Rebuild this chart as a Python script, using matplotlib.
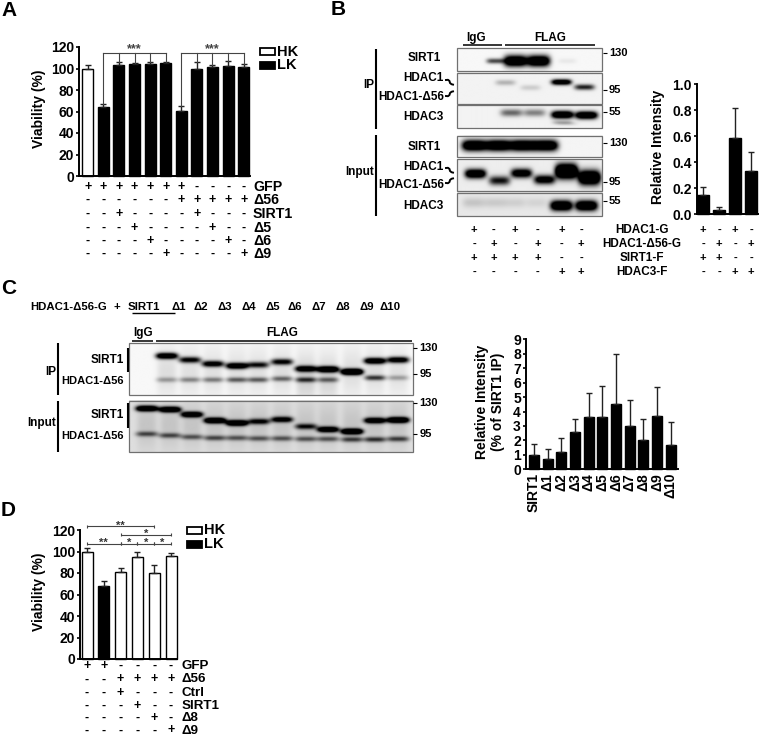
import numpy as np
import matplotlib
matplotlib.use('Agg')
import matplotlib.pyplot as plt
from matplotlib.patches import Rectangle

plt.rcParams['font.family'] = ['Liberation Sans', 'DejaVu Sans']
plt.rcParams['font.weight'] = 'bold'
plt.rcParams['axes.labelweight'] = 'bold'

W, H = 759, 737
D = '\u0394'

# panel A
a_vals = [100, 64, 103, 104.5, 104.5, 105, 60.5, 100, 101, 102.5, 101.5]
a_tops = [103, 67, 106, 105.5, 106.5, 106, 65, 106, 103.5, 107, 104.5]
a_colors = ['white'] + ['black'] * 10
a_labels = ['GFP', D + '56', 'SIRT1', D + '5', D + '6', D + '9']
a_signs = ['+++++++----', '------+++++', '--+----+---', '---+----+--', '----+----+-', '-----+----+']

# panel B
b_vals = [0.145, 0.03, 0.585, 0.335]
b_tops = [0.21, 0.055, 0.815, 0.48]
b_labels = ['HDAC1-G', 'HDAC1-' + D + '56-G', 'SIRT1-F', 'HDAC3-F']
b_signs_blot = ['+-+-+-', '-+-+-+', '++++--', '----++']
b_signs_bar = ['+-+-', '-+-+', '++--', '--++']

# panel C
c_names = ['SIRT1'] + [D + str(i) for i in range(1, 11)]
c_vals = [1, 0.7, 1.2, 2.6, 3.65, 3.6, 4.55, 3.0, 2.0, 3.7, 1.65]
c_tops = [1.75, 1.4, 2.2, 3.5, 5.3, 5.75, 8.0, 4.8, 3.5, 5.7, 3.3]

# panel D
d_vals = [100, 68, 81, 95, 80, 96]
d_tops = [103.5, 73, 85, 100, 87.5, 99]
d_colors = ['white', 'black', 'white', 'white', 'white', 'white']
d_labels = ['GFP', D + '56', 'Ctrl', 'SIRT1', D + '8', D + '9']
d_signs = ['++----', '--++++', '--+---', '---+--', '----+-', '-----+']

# blots: x, y, darkness of the bands, in picture pixels
b1_x = [515, 538]
b1_y = [61, 61]
b1_v = [1.6, 1.6]
b1b_x = [495, 567]
b1b_y = [61, 61]
b1b_v = [0.7, 0.06]
b2_x = [505, 530, 561, 584]
b2_y = [83, 88, 82.5, 87.5]
b2_v = [0.25, 0.15, 1.4, 0.85]
b3_x = [511, 534, 562, 586]
b3_y = [113, 113, 115, 115.5]
b3_v = [0.55, 0.45, 1.6, 1.6]
b3b_x = [562, 567]
b3b_y = [123, 124]
b3b_v = [0.25, 0.1]
b4_x = [474, 498, 522, 545]
b4_y = [146, 146, 146, 146]
b4_v = [1.6, 1.6, 1.6, 1.6]
b5_x = [475, 499, 521, 544]
b5_y = [174, 181, 173.5, 180]
b5_v = [1.5, 0.9, 1.3, 1.2]
b5b_x = [566, 589]
b5b_y = [171.5, 178]
b5b_v = [2.2, 1.9]
b6_x = [473, 494, 514, 536, 561, 586]
b6_y = [203, 203, 203, 203, 206, 206]
b6_v = [0.14, 0.12, 0.1, 0.08, 1.6, 1.6]

c1_x = [167, 190, 213, 237, 258, 282, 306, 328, 352, 375, 398]
c1_y = [356, 360, 364, 366, 365, 362, 369, 369.5, 372, 361, 360]
c1_v = [1.4, 1.0, 1.15, 1.4, 0.9, 1.0, 1.3, 1.6, 1.9, 1.4, 1.2]
c2_x = [167, 190, 213, 237, 258, 282, 306, 328, 375, 398]
c2_y = [380, 380, 380, 380, 380, 379, 380, 380, 378, 378]
c2_v = [0.3, 0.38, 0.42, 0.55, 0.55, 0.5, 0.7, 0.5, 0.7, 0.28]
c5_x = [167, 190, 213, 237, 258, 282, 306, 328, 352, 375, 398]
c5_y = [372, 372, 372, 372, 372, 372, 378, 378, 372, 372, 372]
c5_v = [0.1, 0.09, 0.09, 0.09, 0.09, 0.1, 0.16, 0.14, 0.1, 0.1, 0.09]
c3_x = [147, 170, 192, 215, 237, 259, 282, 306, 328, 352, 375, 398]
c3_y = [409, 410, 415, 421, 423.5, 422, 420, 427, 430, 432, 421, 420.5]
c3_v = [1.5, 1.5, 1.4, 1.5, 1.5, 0.9, 1.05, 0.8, 1.3, 1.6, 1.3, 1.6]
c4_x = [147, 170, 192, 215, 237, 259, 282, 306, 328, 352, 375, 398]
c4_y = [434.5, 436, 437.5, 438.5, 438.5, 439, 439, 439.5, 439.5, 440, 440, 439.5]
c4_v = [0.55, 0.55, 0.5, 0.55, 0.5, 0.5, 0.5, 0.5, 0.5, 0.6, 0.65, 0.6]
c6_y = [426] * 12
c6_v = [0.1] * 12

fig = plt.figure(figsize=(W / 100, H / 100), dpi=100)
over = fig.add_axes([0, 0, 1, 1], zorder=5)
over.set_xlim(0, W)
over.set_ylim(H, 0)
over.axis('off')
over.patch.set_alpha(0)


def txt(x, y, s, size=8.5, ha='center', **kw):
    over.text(x, y, s, fontsize=size, ha=ha, va='center', fontweight='bold', **kw)


def pxline(xs, ys, lw=1.0, color='black'):
    over.plot(xs, ys, color=color, lw=lw, solid_capstyle='butt')


def bars(left, right, top, bottom, first, step, ymax, vals, tops, colors, width, yticks, fmt):
    ax = fig.add_axes([left / W, 1 - bottom / H, (right - left) / W, (bottom - top) / H])
    ax.set_xlim((left - first) / step, (right - first) / step)
    ax.set_ylim(0, ymax)
    xs = np.arange(len(vals))
    vals = np.array(vals)
    ax.bar(xs, vals, width=width / step, color=colors, edgecolor='black', linewidth=1.0, clip_on=False)
    ax.errorbar(xs, vals, yerr=[np.zeros(len(vals)), np.array(tops) - vals], fmt='none',
                ecolor='#222222', elinewidth=1.0, capsize=2.2, capthick=1.0)
    for s in ['top', 'right']:
        ax.spines[s].set_visible(False)
    for s in ['left', 'bottom']:
        ax.spines[s].set_linewidth(1.4)
    ax.set_xticks([])
    ax.set_yticks(yticks)
    ax.set_yticklabels([fmt % t for t in yticks], fontsize=10, fontweight='bold')
    ax.tick_params(axis='y', length=2.5, width=1.2, pad=1)
    ax.patch.set_alpha(0)
    return ax


def signs(rows, ys, xs, labels=None, label_x=None, size=10.2, sign_size=9):
    for row, y in zip(rows, ys):
        for x, c in zip(xs, row):
            txt(x, y, c, size=sign_size)
    if labels:
        for lab, y in zip(labels, ys):
            txt(label_x, y, lab, size=size, ha='left')


def blot(x0, x1, y0, y1, bg, rows):
    xx, yy = np.meshgrid(np.linspace(x0, x1, int((x1 - x0) * 2)), np.linspace(y0, y1, int((y1 - y0) * 2)))
    dark = np.full(xx.shape, bg)
    for xs, ys, vs, hw, hh in rows:
        for x, y, v in zip(xs, ys, vs):
            dark = dark + v * np.exp(-((xx - x) / hw) ** 4 - ((yy - y) / hh) ** 2)
    over.imshow(1 - np.clip(dark, 0, 1), extent=(x0, x1, y1, y0), cmap='gray', vmin=0, vmax=1,
                aspect='auto', interpolation='bilinear', zorder=1)
    over.add_patch(Rectangle((x0, y0), x1 - x0, y1 - y0, fc='none', ec='#707070', lw=0.9, zorder=2))


def mw(x, y, s, size=8):
    pxline([x, x + 4], [y, y], lw=0.8)
    txt(x + 6, y, s, size=size, ha='left')


def curl(x, y, down=True):
    d = 1 if down else -1
    xs = [x, x + 2, x + 3.5, x + 4, x + 5.5, x + 7]
    ys = [y - 2 * d, y - 2.2 * d, y - 1 * d, y + 1 * d, y + 2.2 * d, y + 2.6 * d]
    over.plot(xs, ys, color='black', lw=1.4)


# panel letters
txt(1, 10, 'A', size=15, ha='left')
txt(331, 9, 'B', size=15, ha='left')
txt(1, 288, 'C', size=15, ha='left')
txt(1, 510, 'D', size=15, ha='left')

# A
a_x = 87.7 + 15.6 * np.arange(11)
ax = bars(79, 250, 47, 176, 87.7, 15.6, 120, a_vals, a_tops, a_colors, 11,
          [0, 20, 40, 60, 80, 100, 120], '%d')
txt(39, 109, 'Viability (%)', size=10, rotation=90)
for idx in ([1, 2, 3, 4, 5], [6, 7, 8, 9, 10]):
    ax.plot([idx[0], idx[-1]], [114, 114], color='#444444', lw=0.8, clip_on=False)
    for i in idx:
        ax.plot([i, i], [a_tops[i], 114], color='#444444', lw=0.8, clip_on=False)
    ax.text((idx[0] + idx[-1]) / 2, 112, '***', fontsize=9, ha='center', va='bottom',
            color='#444444', fontweight='bold', clip_on=False)
over.add_patch(Rectangle((260, 48), 15, 7, fc='white', ec='black', lw=1.3))
over.add_patch(Rectangle((260, 61.5), 15, 7, fc='black', ec='black', lw=1.3))
txt(277, 51.5, 'HK', size=10.5, ha='left')
txt(277, 65, 'LK', size=10.5, ha='left')
signs(a_signs, [187, 200, 213.7, 227.7, 240.7, 254], a_x, a_labels, 253)

# B
txt(475.7, 38, 'IgG')
pxline([463.3, 501.7], [45, 45], lw=1.1)
txt(550, 38, 'FLAG')
pxline([505, 595], [45, 45], lw=1.1)
pxline([376, 376], [48.7, 129], lw=1.5)
pxline([376, 376], [135, 216], lw=1.5)
txt(374.5, 85, 'IP', ha='right')
txt(374.5, 171.7, 'Input', ha='right')
blot(456.7, 602.3, 48.3, 70.7, 0.03, [(b1_x, b1_y, b1_v, 11.5, 5.5), (b1b_x, b1b_y, b1b_v, 9, 2.6)])
blot(456.7, 602.3, 72.7, 104, 0.05, [(b2_x, b2_y, b2_v, 10, 2.8)])
blot(456.7, 602.3, 105.3, 128.3, 0.05, [(b3_x, b3_y, b3_v, 11, 3.8), (b3b_x, b3b_y, b3b_v, 10, 2)])
blot(456.7, 602.3, 135.7, 157.3, 0.04, [(b4_x, b4_y, b4_v, 12.5, 5.5)])
blot(456.7, 602.3, 159.3, 191.3, 0.07, [(b5_x, b5_y, b5_v, 10.5, 4.6), (b5b_x, b5b_y, b5b_v, 11, 7)])
blot(456.7, 602.3, 192.7, 216, 0.09, [(b6_x, b6_y, b6_v, 11, 5)])
txt(424, 58.3, 'SIRT1')
txt(444, 78.3, 'HDAC1', ha='right')
txt(444, 96.7, 'HDAC1-' + D + '56', ha='right')
txt(443.3, 117, 'HDAC3', ha='right')
txt(424, 146.7, 'SIRT1')
txt(444, 166.7, 'HDAC1', ha='right')
txt(444, 185, 'HDAC1-' + D + '56', ha='right')
txt(443.3, 205.7, 'HDAC3', ha='right')
curl(446, 82)
curl(446, 94, down=False)
curl(446, 170)
curl(446, 181, down=False)
mw(603, 53, '130')
mw(603, 90, '95')
mw(603, 111.7, '55')
mw(603, 142.7, '130')
mw(603, 181.7, '95')
mw(603, 201, '55')
signs(b_signs_blot, [230, 244, 257.7, 272], [474.3, 494, 515.3, 537.7, 561.7, 581], sign_size=8)
for lab, y in zip(b_labels, [230, 244, 257.7, 272]):
    txt(641.7, y, lab)
bars(696.7, 758, 84.3, 214, 703, 16, 1.0, b_vals, b_tops, ['black'] * 4, 11.7,
     [0, 0.2, 0.4, 0.6, 0.8, 1.0], '%.1f')
txt(658, 147, 'Relative Intensity', size=10, rotation=90)
signs(b_signs_bar, [230, 244, 257.7, 272], [703, 719, 735, 751], sign_size=8)

# C
txt(30, 306.7, 'HDAC1-' + D + '56-G', ha='left', size=8.2)
txt(117, 306.7, '+', size=8.2)
txt(128, 306.7, 'SIRT1', ha='left', size=8.2)
pxline([132, 175], [313.3, 313.3], lw=1.0)
for s, x in zip(c_names[1:], [171, 194, 218, 241, 265, 288, 312, 335, 359, 379]):
    txt(x, 306.7, s, ha='left', size=8.2)
txt(143, 333, 'IgG')
pxline([132, 152.7], [341.3, 341.3], lw=1.1)
txt(281.7, 333, 'FLAG')
pxline([155.7, 411.7], [341.3, 341.3], lw=1.1)
pxline([58.3, 58.3], [343, 395], lw=1.5)
pxline([58.3, 58.3], [400.7, 452.3], lw=1.5)
txt(56, 371.7, 'IP', ha='right')
txt(56, 423, 'Input', ha='right')
blot(129.3, 412.7, 343.3, 395, 0.03, [(c1_x, c1_y, c1_v, 11, 3.0), (c2_x, c2_y, c2_v, 10.5, 2.6),
                                       (c5_x, c5_y, c5_v, 10, 24)])
blot(129.3, 412.7, 400.7, 452.3, 0.13, [(c3_x, c3_y, c3_v, 11, 2.8), (c4_x, c4_y, c4_v, 11, 2.6),
                                        (c3_x, c6_y, c6_v, 10, 24)])
txt(124, 360, 'SIRT1', ha='right')
txt(124, 380.7, 'HDAC1-' + D + '56', ha='right', size=8)
txt(124, 415, 'SIRT1', ha='right')
txt(124, 436, 'HDAC1-' + D + '56', ha='right', size=8)
pxline([127.7, 127.7], [348, 372], lw=1.5)
pxline([127.7, 127.7], [403, 428], lw=1.5)
mw(413.3, 348, '130')
mw(413.3, 374, '95')
mw(413.3, 403, '130')
mw(413.3, 434, '95')
ax = bars(525.7, 678, 339.3, 469.3, 534, 13.67, 9, c_vals, c_tops, ['black'] * 11, 10,
          list(range(10)), '%d')
for i, s in enumerate(c_names):
    ax.text(i, -0.25, s, rotation=90, ha='center', va='top', fontsize=10, fontweight='bold', clip_on=False)
txt(482, 402, 'Relative Intensity', size=10, rotation=90)
txt(498, 402, '(% of SIRT1 IP)', size=10, rotation=90)

# D
d_x = 87 + 16.8 * np.arange(6)
ax = bars(80, 176.7, 530, 659, 87, 16.8, 120, d_vals, d_tops, d_colors, 11,
          [0, 20, 40, 60, 80, 100, 120], '%d')
txt(39, 591.7, 'Viability (%)', size=10, rotation=90)
for a, b, y, s in [(0, 4, 526, '**'), (2, 5, 534.7, '*'), (0, 2, 543.7, '**'),
                   (2, 3, 543.7, '*'), (3, 4, 543.7, '*'), (4, 5, 543.7, '*')]:
    x0, x1 = d_x[a], d_x[b]
    pxline([x0, x1], [y, y], lw=0.8, color='#444444')
    pxline([x0, x0], [y - 1.5, y + 1.5], lw=0.8, color='#444444')
    pxline([x1, x1], [y - 1.5, y + 1.5], lw=0.8, color='#444444')
    txt((x0 + x1) / 2, y - 0.5, s, size=8, color='#333333')
over.add_patch(Rectangle((187, 527), 15, 7, fc='white', ec='black', lw=1.3))
over.add_patch(Rectangle((187, 541), 15, 7, fc='black', ec='black', lw=1.3))
txt(204, 530.5, 'HK', size=10.5, ha='left')
txt(204, 544.5, 'LK', size=10.5, ha='left')
signs(d_signs, [665.7, 679.3, 692.7, 705.7, 718, 730.5], d_x, d_labels, 182, size=9.6)

over.set_xlim(0, W)
over.set_ylim(H, 0)
fig.savefig('out.png', dpi=100)
